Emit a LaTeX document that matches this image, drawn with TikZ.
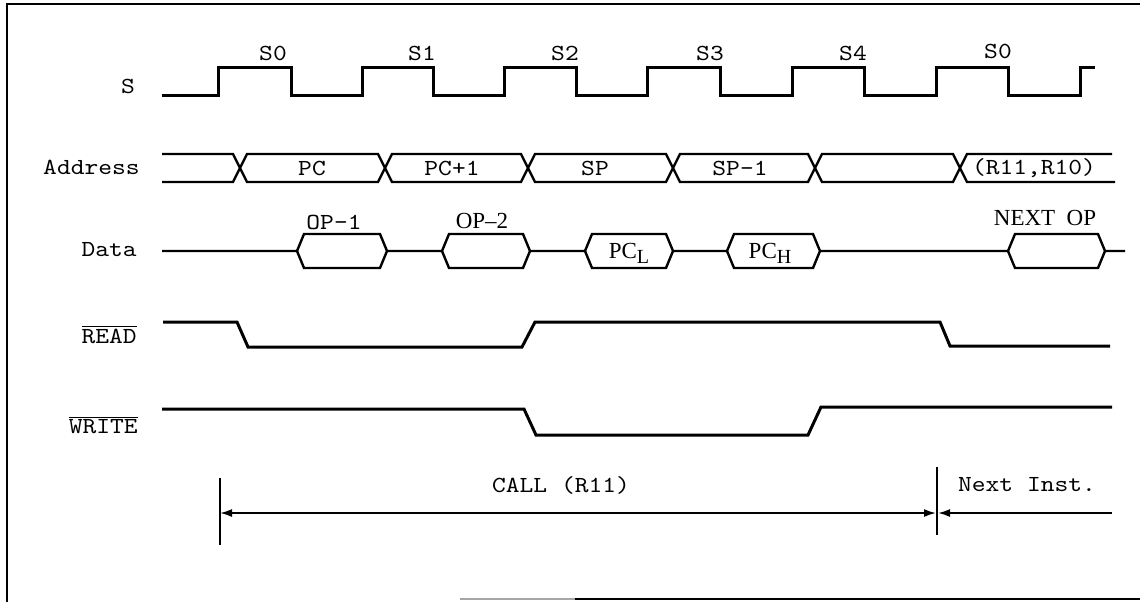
\documentclass[tikz,border=0pt]{standalone}
\usepackage{fontspec}
\newfontfamily\monof[FakeStretch=1.14]{lmmono10-regular.otf}
\newfontfamily\seriff{Liberation Serif}
\usetikzlibrary{arrows.meta}
\begin{document}
\begin{tikzpicture}[x=0.5pt,y=-0.5pt,
  sig/.style={line width=1.5pt, line join=miter},
  bub/.style={line width=1.2pt, line join=miter},
  lbl/.style={font=\fontsize{11.5}{13}\monof, inner sep=0pt},
  slbl/.style={font=\fontsize{11.5}{13}\seriff, inner sep=0pt},
  dim/.style={line width=0.9pt},
  tickline/.style={line width=0.8pt},
  frameline/.style={line width=1.3pt},
  tip/.style={Latex[length=6pt,width=4pt]}]
\useasboundingbox (0,0) rectangle (1140,602);
% frame
\draw[frameline] (7,602) -- (7,4) -- (1140,4);
\draw[frameline, black!35] (460,599) -- (575,599);
\draw[frameline] (575,599) -- (1140,599);

% signal names
\node[lbl] (nS) at (128,86) {S};
\node[lbl, anchor=east] (nAddr) at (140,167) {Address};
\node[lbl, anchor=east] (nData) at (137,250) {Data};
\node[lbl, anchor=east] (nRead) at (137,334) {$\overline{\mbox{READ}}$};
\node[lbl, anchor=east] (nWrite) at (138,425) {$\overline{\mbox{WRITE}}$};

% S clock
\draw[sig] (162,95) -- (218,95) -- (218,67) -- (291,67) -- (291,95) -- (362,95) -- (362,67)
  -- (433,67) -- (433,95) -- (504,95) -- (504,67) -- (576,67) -- (576,95) -- (647,95)
  -- (647,67) -- (720,67) -- (720,95) -- (792,95) -- (792,67) -- (864,67) -- (864,95)
  -- (936,95) -- (936,67) -- (1008,67) -- (1008,95) -- (1080,95) -- (1080,67) -- (1095,67);
\node[lbl] (s0a) at (273,53) {S0};
\node[lbl] (s1) at (422,53) {S1};
\node[lbl] (s2) at (565,53) {S2};
\node[lbl] (s3) at (710,53) {S3};
\node[lbl] (s4) at (853,53) {S4};
\node[lbl] (s0b) at (998,51) {S0};

% Address bus
\draw[bub] (162,154) -- (233,154) -- (247,182) -- (378,182) -- (392,154) -- (521,154)
  -- (535,182) -- (666,182) -- (680,154) -- (808,154) -- (822,182) -- (953,182) -- (967,154) -- (1112,154);
\draw[bub] (162,182) -- (233,182) -- (247,154) -- (378,154) -- (392,182) -- (521,182)
  -- (535,154) -- (666,154) -- (680,182) -- (808,182) -- (822,154) -- (953,154) -- (967,182) -- (1115,182);
\node[lbl] (aPC) at (312,168) {PC};
\node[lbl] (aPC1) at (452,168) {PC+1};
\node[lbl] (aSP) at (595,168) {SP};
\node[lbl] (aSP1) at (740,168) {SP-1};
\node[lbl] (aR) at (1034,168) {(R11,R10)};

% Data bus
\draw[bub] (162,251) -- (297,251) -- (304,234) -- (380,234) -- (387,251) -- (442,251)
  -- (449,234) -- (523,234) -- (530,251) -- (585,251) -- (592,234) -- (666,234) -- (673,251)
  -- (727,251) -- (734,234) -- (813,234) -- (820,251) -- (1008,251) -- (1015,234) -- (1098,234)
  -- (1105,251) -- (1125,251);
\draw[bub] (297,251) -- (304,268) -- (380,268) -- (387,251);
\draw[bub] (442,251) -- (449,268) -- (523,268) -- (530,251);
\draw[bub] (585,251) -- (592,268) -- (666,268) -- (673,251);
\draw[bub] (727,251) -- (734,268) -- (813,268) -- (820,251);
\draw[bub] (1008,251) -- (1015,268) -- (1098,268) -- (1105,251);
\node[lbl] (dOP1) at (334,222) {OP-1};
\node[slbl] (dOP2) at (482,221) {OP–2};
\node[slbl] (dPCL) at (629,253) {PC\raisebox{-0.45ex}{\fontsize{10}{10}\selectfont L}};
\node[slbl] (dPCH) at (770,253) {PC\raisebox{-0.45ex}{\fontsize{10}{10}\selectfont H}};
\node[slbl] (dNext) at (1045,218) {NEXT\ \ OP};

% READ
\draw[sig] (163,322) -- (237,322) -- (248,347) -- (522,347) -- (535,322) -- (940,322) -- (950,346) -- (1110,346);
% WRITE
\draw[sig] (162,409) -- (524,409) -- (536,435) -- (808,435) -- (821,407) -- (1112,407);

% instruction span
\coordinate (b1t) at (220,478);
\coordinate (b1b) at (220,545);
\coordinate (b2t) at (937,467);
\coordinate (b2b) at (937,535);
\coordinate (a1) at (220,513);
\coordinate (a2) at (936,513);
\coordinate (a3) at (938,513);
\coordinate (a4) at (1112,513);
\draw[tickline] (b1t) -- (b1b);
\draw[tickline] (b2t) -- (b2b);
\draw[dim, {Latex[length=6pt,width=4pt]}-{Latex[length=6pt,width=4pt]}] (a1) -- (a2);
\draw[dim, -{Latex[length=6pt,width=4pt]}] (a4) -- (a3);
\node[lbl] (tCall) at (561,485) {CALL (R11)};
\node[lbl] (tNext) at (1027,485) {Next Inst.};
\end{tikzpicture}
\end{document}
